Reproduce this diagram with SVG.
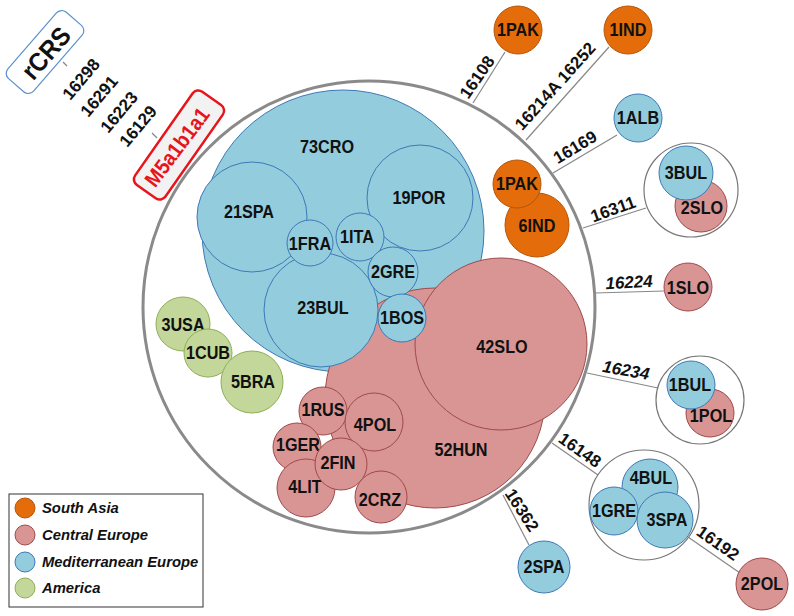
<svg xmlns="http://www.w3.org/2000/svg" width="794" height="616" viewBox="0 0 794 616">
<style>
text{font-family:"Liberation Sans",Arial,sans-serif;fill:#111;}
.lbl{font-size:18px;font-weight:bold;text-anchor:middle;}
.el{font-size:17px;font-weight:bold;text-anchor:middle;}
.it{font-style:italic;}
.or{fill:#e46c0a;stroke:#b4560a;stroke-width:1;}
.pk{fill:#d99594;stroke:#9e4a49;stroke-width:1;}
.bl{fill:#93cddd;stroke:#3d78b6;stroke-width:1;}
.gr{fill:#c4d79b;stroke:#8fae55;stroke-width:1;}
.grp{fill:#fff;stroke:#777;stroke-width:1.2;}
.con line{stroke:#888;stroke-width:1.2;}
.leg{font-size:14.8px;font-style:italic;font-weight:bold;}
</style>

<g id="connectors" class="con">
<line x1="63" y1="62" x2="67" y2="66"/>
<line x1="152" y1="133" x2="157" y2="138"/>
<line x1="473" y1="103" x2="505" y2="52"/>
<line x1="526" y1="140" x2="609" y2="47"/>
<line x1="553" y1="173" x2="617" y2="135"/>
<line x1="583" y1="228" x2="646" y2="208"/>
<line x1="595" y1="293" x2="664" y2="291"/>
<line x1="587" y1="373" x2="658" y2="388"/>
<line x1="552" y1="443" x2="598" y2="475"/>
<line x1="503" y1="495" x2="529" y2="545"/>
<line x1="688" y1="537" x2="740" y2="573"/>
</g>

<g id="edge-labels">
<text class="el" transform="translate(477,77) rotate(-55)" dy="0.35em">16108</text>
<text class="el" transform="translate(555,86) rotate(-48)" dy="0.35em">16214A 16252</text>
<text class="el" transform="translate(575,147) rotate(-31)" dy="0.35em">16169</text>
<text class="el" transform="translate(613,209) rotate(-20)" dy="0.35em">16311</text>
<text class="el it" transform="translate(629,282) rotate(-3)" dy="0.35em">16224</text>
<text class="el it" transform="translate(626,370) rotate(10)" dy="0.35em">16234</text>
<text class="el" transform="translate(580,450) rotate(35)" dy="0.35em">16148</text>
<text class="el" transform="translate(522,510) rotate(57)" dy="0.35em">16362</text>
<text class="el" transform="translate(718,543) rotate(35)" dy="0.35em">16192</text>
<text class="el" transform="translate(81,79) rotate(-50)" dy="0.35em">16298</text>
<text class="el" transform="translate(99,96) rotate(-50)" dy="0.35em">16291</text>
<text class="el" transform="translate(119,112) rotate(-50)" dy="0.35em">16223</text>
<text class="el" transform="translate(138,126) rotate(-50)" dy="0.35em">16129</text>
</g>

<g id="rCRS">
<rect x="-44" y="-17" width="88" height="34" rx="7" transform="translate(45,52) rotate(-49)" fill="#fff" stroke="#5b8fd0" stroke-width="1.2"/>
<text transform="translate(46,53) rotate(-49) scale(0.92,1)" dy="0.35em" style="font-size:26px;font-weight:bold;text-anchor:middle">rCRS</text>
</g>

<g id="M5a1b1a1">
<rect x="-57" y="-18.5" width="114" height="37" rx="7" transform="translate(179,145) rotate(-55)" fill="#f2f2f2" stroke="#e8141b" stroke-width="2.5"/>
<text transform="translate(177,147) rotate(-53) scale(0.9,1)" dy="0.35em" style="font-size:21.5px;font-weight:bold;text-anchor:middle;fill:#e8141b">M5a1b1a1</text>
</g>

<g id="outer-circle">
<circle cx="369" cy="307" r="226" fill="none" stroke="#8a8a8a" stroke-width="3"/>
</g>

<g id="n-6IND"><circle class="or" cx="537" cy="225" r="32"/><text class="lbl" transform="translate(537,226) scale(0.9,1)" dy="0.35em">6IND</text></g>
<g id="n-1PAK-in"><circle class="or" cx="517" cy="184" r="24"/><text class="lbl" transform="translate(517,184) scale(0.9,1)" dy="0.35em">1PAK</text></g>

<g id="n-73CRO"><circle class="bl" cx="343" cy="231" r="141"/><text class="lbl" transform="translate(327,147) scale(0.9,1)" dy="0.35em">73CRO</text></g>
<g id="n-52HUN"><circle class="pk" cx="435" cy="398" r="110"/><text class="lbl" transform="translate(461,450) scale(0.9,1)" dy="0.35em">52HUN</text></g>
<g id="n-42SLO"><circle class="pk" cx="501" cy="344" r="86"/><text class="lbl" transform="translate(502,347) scale(0.9,1)" dy="0.35em">42SLO</text></g>
<g id="n-21SPA"><circle class="bl" cx="252" cy="217" r="55"/><text class="lbl" transform="translate(249,212) scale(0.9,1)" dy="0.35em">21SPA</text></g>
<g id="n-19POR"><circle class="bl" cx="420" cy="198" r="53"/><text class="lbl" transform="translate(419,198) scale(0.9,1)" dy="0.35em">19POR</text></g>
<g id="n-23BUL"><circle class="bl" cx="321" cy="310" r="57"/><text class="lbl" transform="translate(323,308) scale(0.9,1)" dy="0.35em">23BUL</text></g>
<g id="n-1FRA"><circle class="bl" cx="310" cy="243" r="23"/><text class="lbl" transform="translate(310,244) scale(0.9,1)" dy="0.35em">1FRA</text></g>
<g id="n-1ITA"><circle class="bl" cx="360" cy="237" r="24"/><text class="lbl" transform="translate(357,237) scale(0.9,1)" dy="0.35em">1ITA</text></g>
<g id="n-2GRE"><circle class="bl" cx="393" cy="272" r="25"/><text class="lbl" transform="translate(393,272) scale(0.9,1)" dy="0.35em">2GRE</text></g>
<g id="n-1BOS"><circle class="bl" cx="402" cy="318" r="24"/><text class="lbl" transform="translate(402,318) scale(0.9,1)" dy="0.35em">1BOS</text></g>

<g id="n-1RUS"><circle class="pk" cx="323" cy="411" r="24"/><text class="lbl" transform="translate(323,410) scale(0.9,1)" dy="0.35em">1RUS</text></g>
<g id="n-4POL"><circle class="pk" cx="374" cy="422" r="29"/><text class="lbl" transform="translate(375,425) scale(0.9,1)" dy="0.35em">4POL</text></g>
<g id="n-1GER"><circle class="pk" cx="297" cy="447" r="24"/><text class="lbl" transform="translate(298,445) scale(0.9,1)" dy="0.35em">1GER</text></g>
<g id="n-4LIT"><circle class="pk" cx="306" cy="488" r="29"/><text class="lbl" transform="translate(305,487) scale(0.9,1)" dy="0.35em">4LIT</text></g>
<g id="n-2FIN"><circle class="pk" cx="341" cy="464" r="26"/><text class="lbl" transform="translate(338,463) scale(0.9,1)" dy="0.35em">2FIN</text></g>
<g id="n-2CRZ"><circle class="pk" cx="381" cy="497" r="26"/><text class="lbl" transform="translate(380,500) scale(0.9,1)" dy="0.35em">2CRZ</text></g>

<g id="n-3USA"><circle class="gr" cx="183" cy="324" r="27"/><text class="lbl" transform="translate(183,325) scale(0.9,1)" dy="0.35em">3USA</text></g>
<g id="n-1CUB"><circle class="gr" cx="208" cy="353" r="24"/><text class="lbl" transform="translate(208,353) scale(0.9,1)" dy="0.35em">1CUB</text></g>
<g id="n-5BRA"><circle class="gr" cx="252" cy="382" r="31"/><text class="lbl" transform="translate(253,382) scale(0.9,1)" dy="0.35em">5BRA</text></g>

<g id="n-1PAK"><circle class="or" cx="518" cy="30" r="24"/><text class="lbl" transform="translate(518,30) scale(0.9,1)" dy="0.35em">1PAK</text></g>
<g id="n-1IND"><circle class="or" cx="628" cy="30" r="24"/><text class="lbl" transform="translate(628,30) scale(0.9,1)" dy="0.35em">1IND</text></g>
<g id="n-1ALB"><circle class="bl" cx="638" cy="118" r="24"/><text class="lbl" transform="translate(638,118) scale(0.9,1)" dy="0.35em">1ALB</text></g>

<g id="g-3BUL-2SLO">
<circle class="grp" cx="691" cy="190" r="47"/>
<circle class="pk" cx="701" cy="206" r="26"/><text class="lbl" transform="translate(702,208) scale(0.9,1)" dy="0.35em">2SLO</text>
<circle class="bl" cx="686" cy="173" r="27"/><text class="lbl" transform="translate(686,173) scale(0.9,1)" dy="0.35em">3BUL</text>
</g>
<g id="n-1SLO"><circle class="pk" cx="688" cy="287" r="24"/><text class="lbl" transform="translate(688,288) scale(0.9,1)" dy="0.35em">1SLO</text></g>
<g id="g-1BUL-1POL">
<circle class="grp" cx="700" cy="400" r="44"/>
<circle class="pk" cx="710" cy="413" r="24"/><text class="lbl" transform="translate(711,416) scale(0.9,1)" dy="0.35em">1POL</text>
<circle class="bl" cx="691" cy="385" r="24"/><text class="lbl" transform="translate(690,385) scale(0.9,1)" dy="0.35em">1BUL</text>
</g>
<g id="g-4BUL-1GRE-3SPA">
<circle class="grp" cx="644" cy="505" r="55"/>
<circle class="bl" cx="650" cy="487" r="28"/><text class="lbl" transform="translate(651,478) scale(0.9,1)" dy="0.35em">4BUL</text>
<circle class="bl" cx="614" cy="511" r="24"/><text class="lbl" transform="translate(614,511) scale(0.9,1)" dy="0.35em">1GRE</text>
<circle class="bl" cx="665" cy="520" r="28"/><text class="lbl" transform="translate(667,520) scale(0.9,1)" dy="0.35em">3SPA</text>
</g>
<g id="n-2SPA"><circle class="bl" cx="544" cy="567" r="26"/><text class="lbl" transform="translate(544,567) scale(0.9,1)" dy="0.35em">2SPA</text></g>
<g id="n-2POL"><circle class="pk" cx="762" cy="584" r="26"/><text class="lbl" transform="translate(762,584) scale(0.9,1)" dy="0.35em">2POL</text></g>

<g id="legend">
<rect x="9" y="494" width="194" height="113" fill="#fff" stroke="#333" stroke-width="1"/>
<circle class="or" cx="25" cy="508" r="10"/><text class="leg" x="42" y="508" dy="0.35em">South Asia</text>
<circle class="pk" cx="25" cy="535" r="10"/><text class="leg" x="42" y="535" dy="0.35em">Central Europe</text>
<circle class="bl" cx="25" cy="562" r="10"/><text class="leg" x="42" y="562" dy="0.35em">Mediterranean Europe</text>
<circle class="gr" cx="25" cy="588" r="10"/><text class="leg" x="42" y="588" dy="0.35em">America</text>
</g>
</svg>
